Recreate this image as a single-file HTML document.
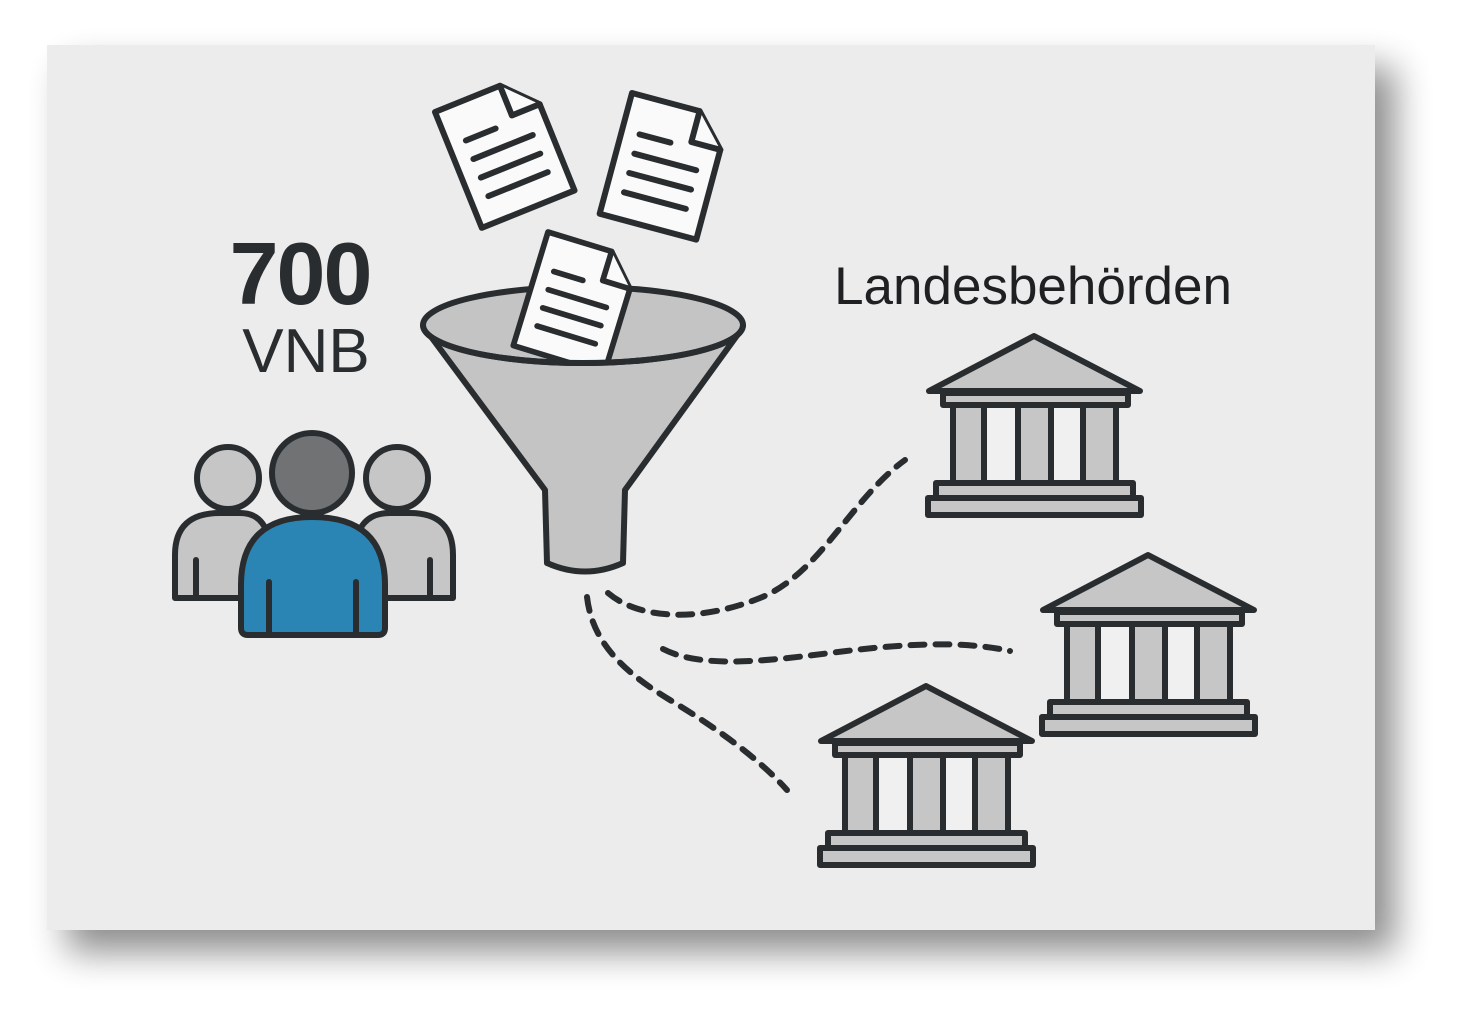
<!DOCTYPE html>
<html><head><meta charset="utf-8"><style>
html,body{margin:0;padding:0;background:#fff;}
body{width:1470px;height:1027px;position:relative;overflow:hidden;}
svg{position:absolute;left:0;top:0;}
</style></head><body>
<svg width="1470" height="1027" viewBox="0 0 1470 1027" xmlns="http://www.w3.org/2000/svg">
<defs>
<filter id="sh" x="-10%" y="-10%" width="130%" height="130%">
<feGaussianBlur in="SourceAlpha" stdDeviation="18"/>
<feOffset dx="20" dy="22"/>
<feComponentTransfer><feFuncA type="linear" slope="0.45"/></feComponentTransfer>
<feMerge><feMergeNode/><feMergeNode in="SourceGraphic"/></feMerge>
</filter>
<g id="bld" stroke="#2a2d2f" stroke-width="6" stroke-linejoin="round">
<polygon points="108,3 3,58 214,58" fill="#c6c6c6"/>
<rect x="17" y="60" width="185" height="12" fill="#c6c6c6"/>
<rect x="27" y="72" width="163" height="78" fill="#c6c6c6"/>
<rect x="58" y="72" width="34" height="78" fill="#f0f0f0"/>
<rect x="125" y="72" width="32" height="78" fill="#f0f0f0"/>
<rect x="10" y="150" width="197" height="15" fill="#c6c6c6"/>
<rect x="2" y="165" width="213" height="17" fill="#c6c6c6"/>
</g>
<g id="doc" stroke="#2a2d2f" stroke-width="6" stroke-linejoin="round" stroke-linecap="round">
<path d="M0,0 L70,0 L100,32 L100,125 L0,125 Z" fill="#fafafa"/>
<path d="M70,0 L70,32 L100,32" fill="#fafafa"/>
<line x1="18" y1="38" x2="50" y2="38"/>
<line x1="18" y1="58" x2="82" y2="58"/>
<line x1="18" y1="78" x2="82" y2="78"/>
<line x1="18" y1="98" x2="82" y2="98"/>
</g>
<clipPath id="cp"><path d="M0,0 H1470 V325 L743,325 A160,38 0 0 1 423,325 L0,325 Z"/></clipPath>
</defs>
<rect x="47" y="45" width="1328" height="885" fill="#ececec" filter="url(#sh)"/>

<text x="300" y="304" font-family="Liberation Sans, sans-serif" font-weight="bold" font-size="88" fill="#2a2d2f" text-anchor="middle" letter-spacing="-2">700</text>
<text x="306" y="372" font-family="Liberation Sans, sans-serif" font-size="62" fill="#2a2d2f" text-anchor="middle">VNB</text>
<text x="1033" y="304" font-family="Liberation Sans, sans-serif" font-size="53" fill="#1e2022" text-anchor="middle">Landesbehörden</text>

<g stroke="#2a2d2f" stroke-width="6" stroke-linejoin="round" stroke-linecap="round">
<path d="M175,598 L175,555 Q175,513 220,513 L240,513 Q270,513 270,555 L270,598 Z" fill="#c6c6c6"/>
<line x1="196" y1="560" x2="196" y2="598"/>
<path d="M355,598 L355,555 Q355,513 390,513 L410,513 Q453,513 453,555 L453,598 Z" fill="#c6c6c6"/>
<line x1="430" y1="560" x2="430" y2="598"/>
<circle cx="228" cy="478" r="31" fill="#c6c6c6"/>
<circle cx="397" cy="478" r="31" fill="#c6c6c6"/>
<path d="M241,628 L241,585 Q241,517 312,517 Q385,517 385,585 L385,628 Q385,635 378,635 L248,635 Q241,635 241,628 Z" fill="#2a85b5"/>
<line x1="269" y1="582" x2="269" y2="635"/>
<line x1="356" y1="582" x2="356" y2="635"/>
<circle cx="312" cy="473" r="40" fill="#707274"/>
</g>

<g stroke="#2a2d2f" stroke-width="6" stroke-linejoin="round">
<path d="M426,330 L545,490 L547,563 Q585,580 623,563 L625,490 L741,330 Z" fill="#c4c4c4"/>
<ellipse cx="583" cy="325" rx="160" ry="38" fill="#c4c4c4"/>
</g>
<use href="#doc" transform="translate(435,112) rotate(-22)"/>
<use href="#doc" transform="translate(632,93) rotate(15)"/>
<g clip-path="url(#cp)"><use href="#doc" transform="translate(548,232) rotate(17) scale(0.95)"/></g>
<path d="M743,325 A160,38 0 0 1 423,325" stroke="#2a2d2f" stroke-width="6" fill="none"/>

<g stroke="#2a2d2f" stroke-width="6" fill="none" stroke-dasharray="14,11" stroke-linecap="round">
<path d="M608,593 C640,620 700,622 760,598 S850,500 905,460"/>
<path d="M587,597 C592,640 620,670 670,700 S760,760 787,790"/>
<path d="M663,649 C700,668 760,662 830,653 S960,640 1010,651"/>
</g>

<use href="#bld" transform="translate(926,333)"/>
<use href="#bld" transform="translate(1040,552)"/>
<use href="#bld" transform="translate(818,683)"/>
</svg>
</body></html>
